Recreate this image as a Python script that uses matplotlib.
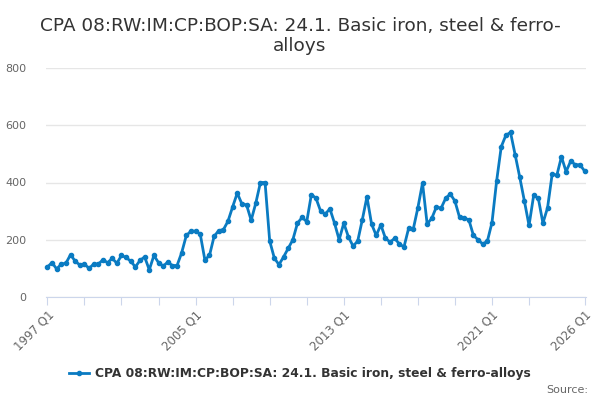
import matplotlib
matplotlib.use('Agg')
import matplotlib.pyplot as plt

# quarterly values, 1997 Q1 .. 2026 Q1
years = list(range(1997, 2027))
quarters = [f"{y} Q{q}" for y in years for q in range(1, 5)][:117]

values = [
    105, 120, 98, 115,    # 1997
    118, 148, 125, 112,   # 1998
    115, 100, 115, 115,   # 1999
    130, 120, 135, 118,   # 2000
    145, 138, 125, 105,   # 2001
    128, 140, 95, 145,    # 2002
    120, 108, 122, 110,   # 2003
    110, 155, 215, 230,   # 2004
    230, 220, 130, 145,   # 2005
    212, 232, 235, 265,   # 2006
    315, 363, 325, 322,   # 2007
    268, 328, 400, 400,   # 2008
    196, 136, 113, 140,   # 2009
    170, 200, 258, 278,   # 2010
    263, 358, 345, 300,   # 2011
    290, 308, 258, 200,   # 2012
    258, 210, 178, 195,   # 2013
    270, 350, 255, 215,   # 2014
    252, 205, 192, 205,   # 2015
    185, 175, 240, 237,   # 2016
    312, 398, 255, 275,   # 2017
    315, 310, 345, 360,   # 2018
    335, 278, 275, 270,   # 2019
    215, 200, 185, 195,   # 2020
    260, 405, 525, 565,   # 2021
    575, 497, 418, 335,   # 2022
    250, 355, 345, 258,   # 2023
    312, 430, 425, 490,   # 2024
    438, 475, 462, 462,   # 2025
    440,                  # 2026
]

tick_labels = ["1997 Q1", "2005 Q1", "2013 Q1", "2021 Q1", "2026 Q1"]
series_name = "CPA 08:RW:IM:CP:BOP:SA: 24.1. Basic iron, steel & ferro-alloys"
title = "CPA 08:RW:IM:CP:BOP:SA: 24.1. Basic iron, steel & ferro-\nalloys"

plt.rcParams['font.family'] = ['DejaVu Sans']
line_col = '#0a7bc2'

fig = plt.figure(figsize=(6, 4), dpi=100)
ax = fig.add_axes([46/600, 103/400, 540/600, 229/400])

x = list(range(len(values)))
ax.plot(x, values, color=line_col, lw=2, marker='o', ms=3, zorder=3,
        clip_on=False, label=series_name)

ax.set_ylim(0, 800)
ax.set_xlim(-0.3, len(values) - 0.7)
ax.set_yticks([0, 200, 400, 600, 800])
ax.grid(axis='y', color='#e6e6e6', lw=1)
ax.set_axisbelow(True)
for s in ['top', 'right', 'left']:
    ax.spines[s].set_visible(False)
ax.spines['bottom'].set_color('#ccd6eb')
ax.tick_params(axis='y', length=0, labelsize=8, labelcolor='#666666', pad=14)

# ticks every 2 years plus the final quarter
major = [i for i in range(0, len(values), 8) if i < len(values) - 8] + [len(values) - 1]
ax.set_xticks(major)
ax.set_xticklabels([quarters[i] if quarters[i] in tick_labels else '' for i in major],
                   rotation=45, ha='right', rotation_mode='anchor')
ax.tick_params(axis='x', length=6, color='#ccd6eb', labelsize=8.5,
               labelcolor='#666666', pad=2)

fig.text(0.5, 0.958, title, ha='center', va='top', fontsize=13.3,
         color='#333333', linespacing=1.15)

leg = fig.legend(loc='center', bbox_to_anchor=(0.5, 0.065), frameon=False,
                 fontsize=8.8, handlelength=1.6, handletextpad=0.5)
for t in leg.get_texts():
    t.set_color('#333333')
    t.set_fontweight('bold')

fig.text(0.98, 0.025, "Source:", ha='right', va='center', fontsize=8,
         color='#666666')

fig.savefig('out.png', dpi=100)
